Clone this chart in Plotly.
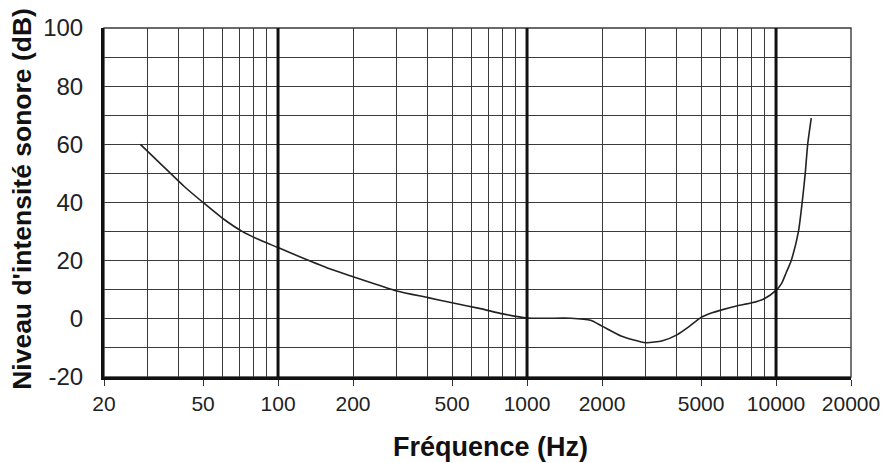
import plotly.graph_objects as go
import numpy as np

# Data: hearing threshold curve (frequency in Hz, level in dB)
freq = [28, 35, 42, 50, 60, 72, 85, 100, 125, 160, 200, 300, 400, 500, 650, 800, 1000,
        1200, 1500, 1800, 2000, 2400, 3000, 3500, 4000, 4500, 5000, 5500, 6000, 7000,
        8000, 9000, 10000, 10500, 11000, 11500, 12300, 12750, 13100, 13400, 13850]
level = [60, 52, 45.5, 40, 34.5, 30, 27, 24.5, 21, 17.3, 14.5, 9.6, 7.3, 5.5, 3.5, 1.7, 0.3,
         0.2, 0.2, -0.5, -2.5, -6, -8.2, -7.5, -5.5, -2.5, 0.5, 2, 3, 4.5,
         5.5, 7, 9.8, 12, 16, 20, 30, 40.5, 50, 60, 69]

x_tick_vals = [20, 50, 100, 200, 500, 1000, 2000, 5000, 10000, 20000]
x_tick_text = ["20", "50", "100", "200", "500", "1000", "2000", "5000", "10000", "20000"]
x_minor = [30, 40, 60, 70, 80, 90, 300, 400, 600, 700, 800, 900,
           3000, 4000, 6000, 7000, 8000, 9000]
decades = [100, 1000, 10000]
y_tick_vals = [-20, 0, 20, 40, 60, 80, 100]
y_tick_text = ["-20", "0", "20", "40", "60", "80", "100"]

fig = go.Figure()
fig.add_trace(go.Scatter(x=freq, y=level, mode="lines",
                         line=dict(color="#222222", width=1.6, shape="spline", smoothing=0.6),
                         showlegend=False, hoverinfo="skip"))

for d in decades:
    fig.add_shape(type="line", xref="x", yref="paper", x0=d, x1=d, y0=0, y1=1,
                  line=dict(color="#111111", width=3), layer="above")

fig.update_layout(
    width=883, height=463,
    margin=dict(l=104, r=32, t=28, b=86),
    paper_bgcolor="white", plot_bgcolor="white",
    font=dict(family="Arial, Liberation Sans, sans-serif", color="#1a1a1a"),
    xaxis=dict(type="log", range=[np.log10(20), np.log10(20000)], automargin=False,
               tickmode="array", tickvals=x_tick_vals, ticktext=x_tick_text,
               tickfont=dict(size=21, color="#222222"),
               ticks="outside", ticklen=6, tickcolor="#333333", tickwidth=1,
               showgrid=True, gridcolor="#3a3a3a", gridwidth=1.4,
               minor=dict(tickmode="array", tickvals=x_minor, showgrid=True,
                          gridcolor="#3a3a3a", gridwidth=1.4, ticks=""),
               showline=True, linecolor="#111111", linewidth=3, mirror=False,
               zeroline=False),
    yaxis=dict(range=[-20, 100], tickmode="array", tickvals=y_tick_vals, ticktext=y_tick_text,
               automargin=False, ticklabelstandoff=13,
               tickfont=dict(size=24, color="#222222"),
               ticks="", showgrid=True, gridcolor="#3a3a3a", gridwidth=1.4,
               minor=dict(dtick=10, showgrid=True, gridcolor="#3a3a3a", gridwidth=1.4),
               showline=True, linecolor="#111111", linewidth=3,
               zeroline=False),
    annotations=[
        dict(text="<b>Fréquence (Hz)</b>", xref="paper", yref="paper",
             x=0.517, y=-0.20, xanchor="center", yanchor="middle", showarrow=False,
             font=dict(size=27, color="#111111")),
        dict(text="<b>Niveau d'intensité sonore (dB)</b>", xref="paper", yref="paper",
             x=-0.11, y=0.51, xanchor="center", yanchor="middle", showarrow=False,
             textangle=-90, font=dict(size=26.5, color="#111111")),
    ],
)
# thin frame on top and right
fig.add_shape(type="rect", xref="paper", yref="paper", x0=0, x1=1, y0=0, y1=1,
              line=dict(color="#3a3a3a", width=1.4), layer="below")

fig.write_html("out.html", config={"displayModeBar": False},
               post_script="document.body.style.margin='0';document.body.style.overflow='hidden';")
